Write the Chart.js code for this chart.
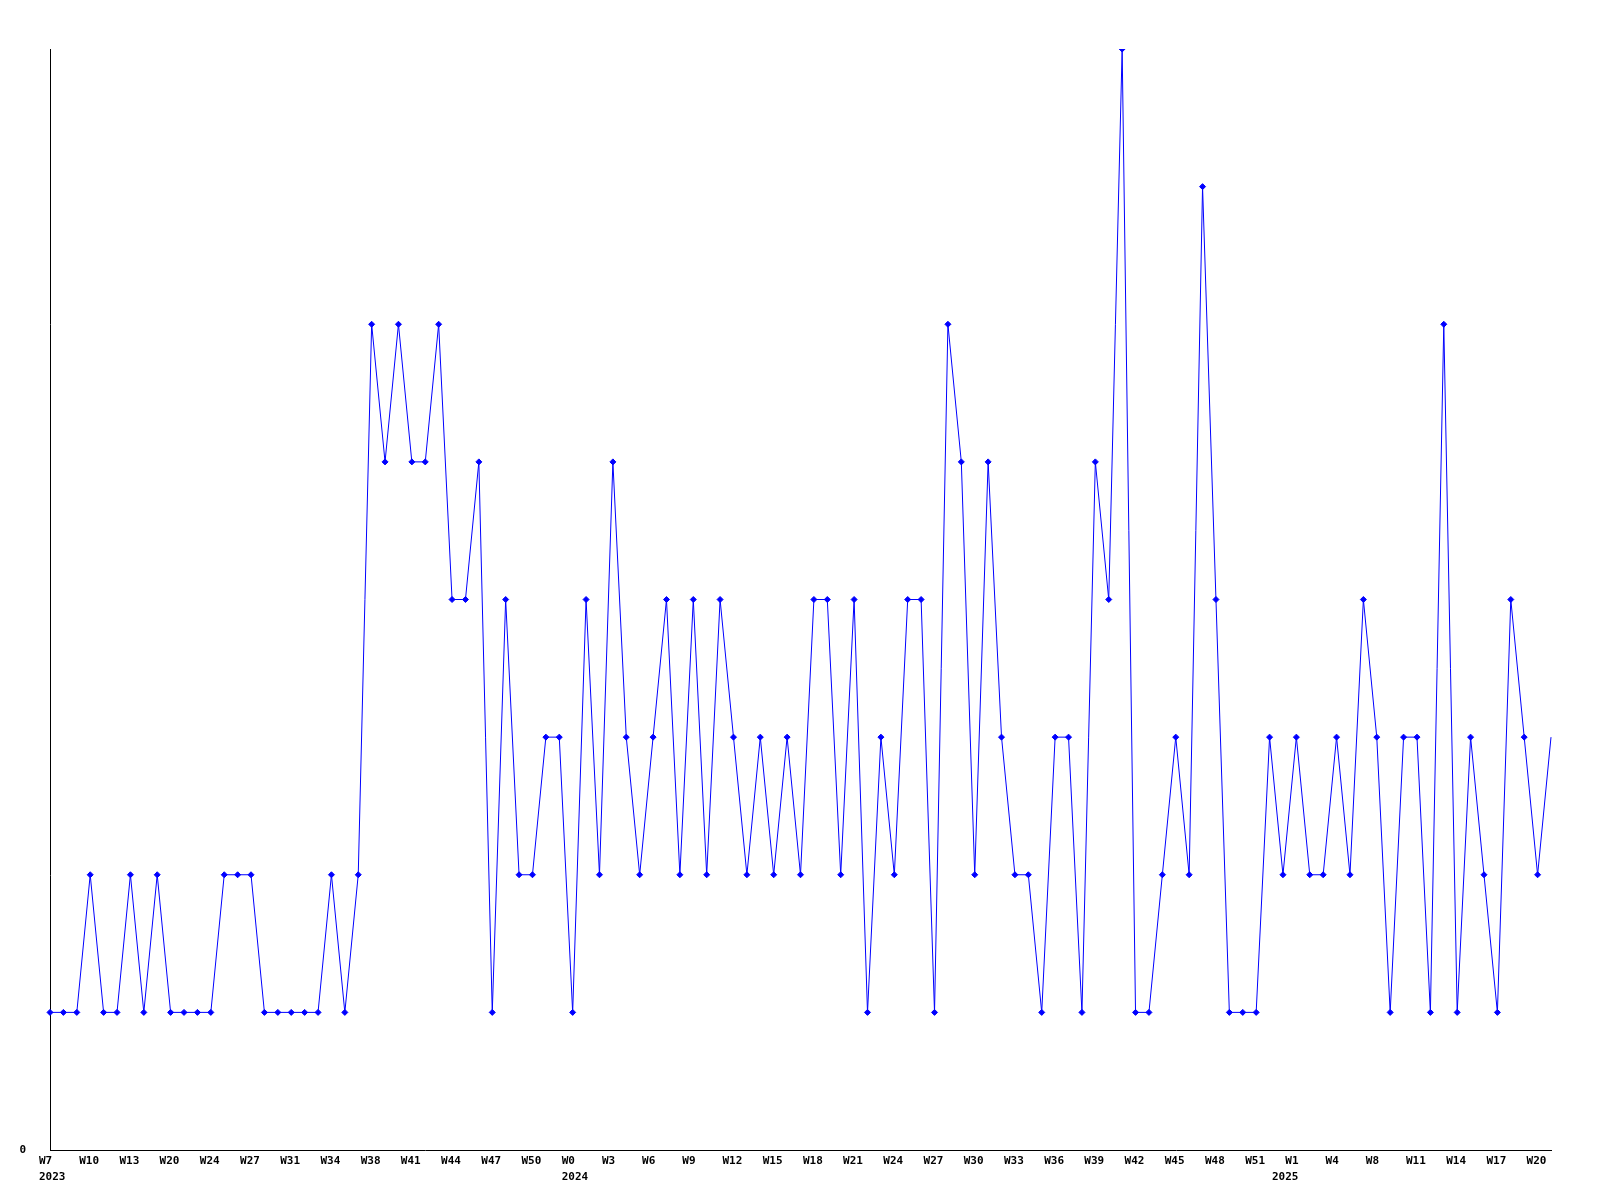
<!DOCTYPE html>
<html>
<head>
<meta charset="utf-8">
<title>Weekly count</title>
<script src="https://cdn.jsdelivr.net/npm/chart.js@4.4.1/dist/chart.umd.min.js"></script>
<style>
  html, body { margin: 0; padding: 0; background: #ffffff; }
  #wrap { width: 1600px; height: 1200px; }
</style>
</head>
<body>
<div id="wrap"><canvas id="myChart" width="1600" height="1200"></canvas></div>
<script>
// one value per week, from W7 2023 up to the right edge in 2025
const weekValues = [
    1, 1, 1, 2, 1, 1, 2, 1, 2, 1, 1, 1, 1, 2, 2, 2, 1, 1, 1, 1, 1, 2, 1, 2,
    6, 5, 6, 5, 5, 6, 4, 4, 5, 1, 4, 2, 2, 3, 3, 1, 4, 2, 5, 3, 2, 3, 4, 2, 4, 2,
    4, 3, 2, 3, 2, 3, 2, 4, 4, 2, 4, 1, 3, 2, 4, 4, 1, 6, 5, 2, 5, 3, 2, 2, 1, 3, 3, 1, 5, 4, 8,
    1, 1, 2, 3, 2, 7, 4, 1, 1, 1, 3, 2, 3, 2, 2, 3, 2, 4, 3, 1, 3, 3, 1, 6, 1, 3, 2, 1, 4, 3, 2, 3
];

// x tick labels, one every 3 points
const tickLabels = [
    'W7', 'W10', 'W13', 'W20', 'W24', 'W27', 'W31', 'W34', 'W38', 'W41', 'W44', 'W47', 'W50',
    'W0', 'W3', 'W6', 'W9', 'W12', 'W15', 'W18', 'W21', 'W24', 'W27', 'W30', 'W33', 'W36', 'W39', 'W42', 'W45', 'W48', 'W51',
    'W1', 'W4', 'W8', 'W11', 'W14', 'W17', 'W20'
];
// year printed on a second line, keyed by point index (first week of the year)
const yearLabels = { 0: '2023', 39: '2024', 92: '2025' };
const LABEL_EVERY = 3;

const yMin = 0;
const yMax = 8;

// build category labels (empty between ticks)
const categories = weekValues.map((v, i) => {
    let w = '';
    if (i % LABEL_EVERY === 0 && tickLabels[i / LABEL_EVERY] !== undefined) w = tickLabels[i / LABEL_EVERY];
    if (yearLabels[i]) return [w, yearLabels[i]];
    return w;
});

const ctx = document.getElementById('myChart').getContext('2d');
const tickFont = { family: '"DejaVu Sans Mono", monospace', size: 11, weight: 'bold', lineHeight: 1.45 };

new Chart(ctx, {
    type: 'line',
    data: {
        labels: categories,
        datasets: [{
            data: weekValues,
            borderColor: '#0000ff',
            backgroundColor: '#0000ff',
            borderWidth: 1,
            tension: 0,
            fill: false,
            pointStyle: 'rectRot',
            pointRadius: (c) => c.dataIndex === weekValues.length - 1 ? 0 : 3,
            pointBorderWidth: 1
        }]
    },
    options: {
        responsive: false,
        animation: false,
        devicePixelRatio: 1,
        layout: { padding: { top: 49, right: 49, left: 0, bottom: 0 } },
        plugins: { legend: { display: false }, tooltip: { enabled: false } },
        scales: {
            x: {
                offset: false,
                grid: { display: false, drawTicks: false },
                border: { display: true, color: '#000000', width: 1 },
                ticks: {
                    autoSkip: false, maxRotation: 0, minRotation: 0,
                    align: 'start', labelOffset: -11,
                    padding: 3, color: '#000000', font: tickFont
                },
                afterFit: (s) => { s.height = 50; }
            },
            y: {
                min: yMin, max: yMax,
                grid: { display: false, drawTicks: false },
                border: { display: true, color: '#000000', width: 1 },
                ticks: {
                    stepSize: 8, padding: 24, color: '#000000', font: tickFont,
                    callback: (v) => v === 0 ? '0' : ''
                },
                afterFit: (s) => { s.width = 50; }
            }
        }
    }
});
</script>
</body>
</html>
